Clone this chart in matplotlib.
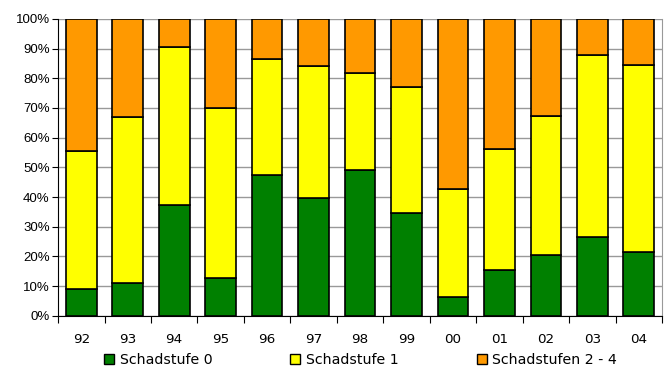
import numpy as np
import matplotlib.pyplot as plt
from matplotlib.patches import Patch

plt.rcParams['font.family'] = ['Liberation Sans', 'DejaVu Sans']

jahre = ["92", "93", "94", "95", "96", "97", "98", "99", "00", "01", "02", "03", "04"]
stufe0 = [9.2, 11.0, 37.4, 12.9, 47.4, 39.7, 49.2, 34.5, 6.4, 15.3, 20.4, 26.4, 21.5]
stufe1 = [46.4, 55.8, 53.2, 57.2, 39.1, 44.5, 32.7, 42.7, 36.2, 40.8, 46.8, 61.4, 62.8]
stufe2_4 = [44.4, 33.2, 9.4, 29.9, 13.5, 15.8, 18.1, 22.8, 57.4, 43.9, 32.8, 12.2, 15.7]

farben = ["#008000", "#FFFF00", "#FF9900"]
namen = ["Schadstufe 0", "Schadstufe 1", "Schadstufen 2 - 4"]

fig = plt.figure(figsize=(6.68, 3.69), dpi=100)
ax = fig.add_axes([0.087, 0.144, 0.904, 0.805])

x = np.arange(len(jahre))
unten = np.zeros(len(jahre))
for werte, farbe in zip([stufe0, stufe1, stufe2_4], farben):
    ax.bar(x, werte, bottom=unten, width=0.66, color=farbe,
           edgecolor="black", linewidth=1.2, zorder=3)
    unten += np.array(werte)

ax.set_xlim(-0.5, len(jahre) - 0.5)
ax.set_ylim(0, 100)
ax.set_yticks(range(0, 101, 10))
ax.set_yticklabels([f"{v}%" for v in range(0, 101, 10)], fontsize=9.5)
ax.yaxis.grid(True, color="#999999", linewidth=1, zorder=0)

# Striche zwischen den Kategorien, Beschriftung in der Mitte
ax.set_xticks(np.arange(len(jahre) + 1) - 0.5)
ax.set_xticklabels([])
ax.set_xticks(x, minor=True)
ax.set_xticklabels(jahre, minor=True, fontsize=9.7, family="DejaVu Sans")
ax.tick_params(axis="x", which="major", length=5, color="black")
ax.tick_params(axis="x", which="minor", length=0, pad=12)
ax.tick_params(axis="y", length=4, pad=2)

ax.spines["top"].set_visible(False)
ax.spines["right"].set_color("#999999")
ax.spines["left"].set_color("black")
ax.spines["bottom"].set_color("black")

handles = [Patch(facecolor=f, edgecolor="black", linewidth=1) for f in farben]
fig.legend(handles, namen, loc="center", bbox_to_anchor=(0.54, 0.025),
           ncol=3, frameon=False, prop={"family": "DejaVu Sans", "size": 10.2},
           handlelength=0.7, handleheight=0.7, handletextpad=0.4,
           columnspacing=5.5, borderpad=0, borderaxespad=0)

fig.savefig("out.png", dpi=100)
